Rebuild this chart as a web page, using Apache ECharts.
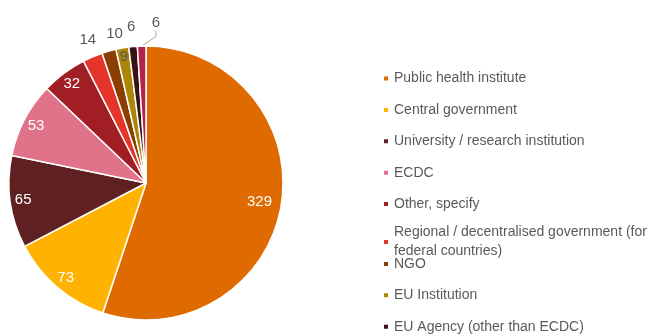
<!DOCTYPE html>
<html><head><meta charset="utf-8">
<script src="https://cdn.jsdelivr.net/npm/echarts@6/dist/echarts.min.js"></script>
<style>html,body{margin:0;padding:0;background:#fff}#c{width:651px;height:335px}</style>
</head><body><div id="c"></div>
<script>
const categories = ['Public health institute','Central government','University / research institution','ECDC','Other, specify','Regional / decentralised government (for federal countries)','NGO','EU Institution','EU Agency (other than ECDC)','Local government'];
const values = [329, 73, 65, 53, 32, 14, 10, 9, 6, 6];
const colors = ['#DE6A00','#FFB300','#5E2020','#E07389','#A11F24','#E5352B','#8A3E00','#AD8607','#3B1212','#B4234D'];
const labelsBig = [0];
const labelsInside = [1, 2, 3, 4];
const labelsRim = [7];
const labelsOutside = [5, 6, 8];
const labelsLeader = [9];

const FONT = "'Liberation Sans', Arial, sans-serif";
const TEXT = '#595959';
const center = [146, 183];
const R = 137;

function ring(r, idx, color, size, nudge) {
  return {
    type: 'pie', center: center, radius: [0, 2 * r], startAngle: 90, clockwise: true,
    silent: true, avoidLabelOverlap: false, z: 5,
    itemStyle: { color: 'rgba(0,0,0,0)', borderWidth: 0 },
    emphasis: { disabled: true },
    label: { position: 'inside', formatter: '{c}', color: color, fontSize: size, fontFamily: FONT },
    labelLine: { show: false },
    labelLayout: nudge ? function (p) { const d = nudge[p.dataIndex]; if (d) return { dx: d[0], dy: d[1] }; } : undefined,
    data: categories.map((n, i) => ({ name: n, value: values[i], label: { show: idx.includes(i) } }))
  };
}

const mainSeries = {
  type: 'pie', center: center, radius: R, startAngle: 90, clockwise: true,
  avoidLabelOverlap: false,
  itemStyle: { borderColor: '#fff', borderWidth: 1.5 },
  emphasis: { disabled: true },
  label: { position: 'outside', formatter: '{c}', color: TEXT, fontSize: 15, fontFamily: FONT },
  labelLine: { length: 18, length2: 6, lineStyle: { color: '#A6A6A6', width: 1 } },
  labelLayout: function (p) {
    if (labelsLeader.includes(p.dataIndex)) {
      return { x: p.labelRect.x + p.labelRect.width / 2 + 30, y: p.labelRect.y + p.labelRect.height / 2 - 5, align: 'center', verticalAlign: 'middle' };
    }
  },
  data: categories.map((n, i) => ({
    name: n, value: values[i], itemStyle: { color: colors[i] },
    label: { show: labelsLeader.includes(i) },
    labelLine: { show: labelsLeader.includes(i) }
  }))
};

const firstRow = 77, pitch = 31.4;
const legends = categories.map((n, i) => ({
  data: [n], left: 382, top: firstRow + i * pitch - 8 - (i >= 5 ? 3 : 0), orient: 'vertical',
  itemWidth: 6, itemHeight: 6, icon: 'rect', padding: 0, itemGap: 0,
  selectedMode: false,
  textStyle: { color: TEXT, fontSize: 14, fontFamily: FONT, lineHeight: 19, width: 258, overflow: 'break' }
}));

const chart = echarts.init(document.getElementById('c'), null, { renderer: 'canvas' });
chart.setOption({
  animation: false,
  color: colors,
  legend: legends,
  series: [
    mainSeries,
    ring(112, labelsBig, '#ffffff', 15),
    ring(121, labelsInside, '#ffffff', 15),
    ring(125, labelsRim, TEXT, 15),
    ring(154, labelsOutside, TEXT, 15, { 5: [3, 1], 6: [11, 2] })
  ]
});
</script>
</body></html>
